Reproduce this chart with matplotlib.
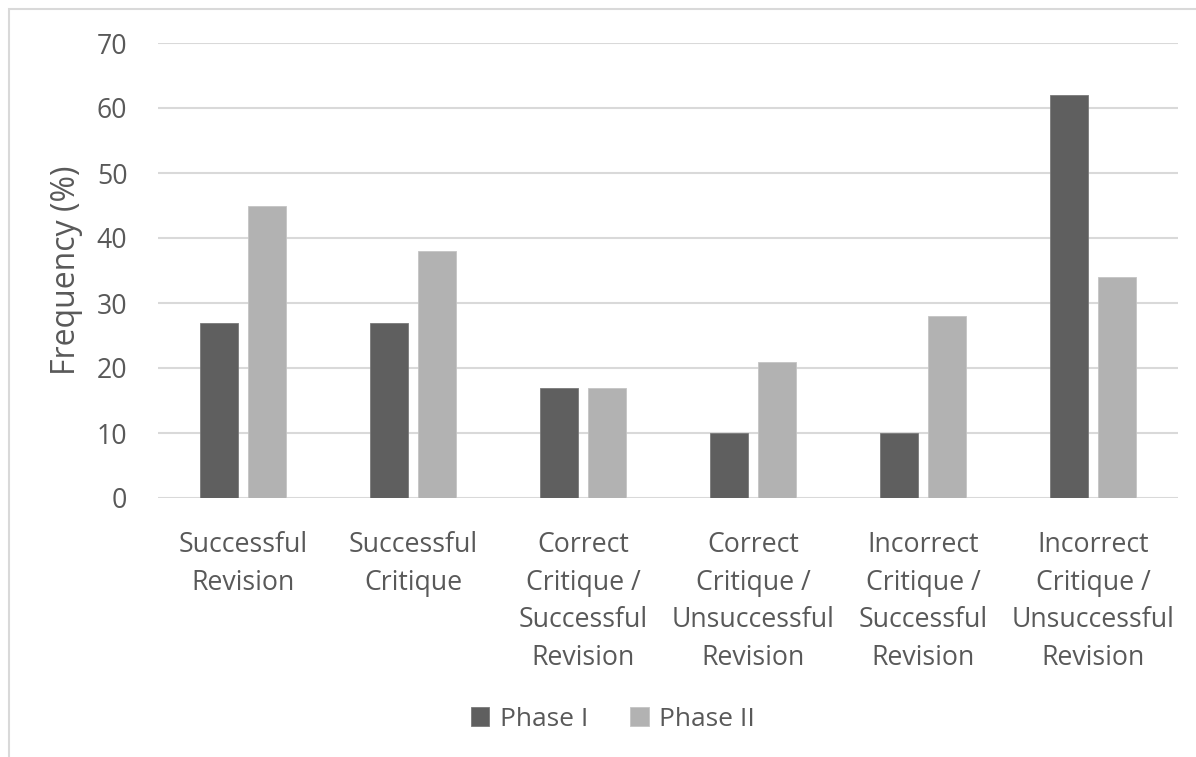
import matplotlib
matplotlib.use("Agg")
import matplotlib.pyplot as plt
import numpy as np
from matplotlib.patches import Rectangle

plt.rcParams['font.family'] = ['Open Sans', 'DejaVu Sans']

categories = ["Successful\nRevision", "Successful\nCritique",
              "Correct\nCritique /\nSuccessful\nRevision",
              "Correct\nCritique /\nUnsuccessful\nRevision",
              "Incorrect\nCritique /\nSuccessful\nRevision",
              "Incorrect\nCritique /\nUnsuccessful\nRevision"]
phase1 = [27, 27, 17, 10, 10, 62]
phase2 = [45, 38, 17, 21, 28, 34]
series_names = ["Phase I", "Phase II"]
yticks = [0, 10, 20, 30, 40, 50, 60, 70]

c1 = "#5f5f5f"
c2 = "#b2b2b2"
txt = "#595959"
grid = "#d9d9d9"

fig = plt.figure(figsize=(11.96, 7.57), dpi=100)
# outer chart border
fig.patches.append(Rectangle((9/1196, -0.1), 1.2, (757-9)/757 + 0.1,
                             transform=fig.transFigure, fill=False,
                             edgecolor=grid, lw=1.5, zorder=0))

ax = fig.add_axes([158/1196, (757-498)/757, (1178-158)/1196, (498-43)/757])
x = np.arange(len(categories))
w = 0.224
off = 0.141
ax.bar(x - off, phase1, w, color=c1, label=series_names[0], zorder=3,
       edgecolor="#7a7a7a", linewidth=0.6)
ax.bar(x + off, phase2, w, color=c2, label=series_names[1], zorder=3,
       edgecolor="#c4c4c4", linewidth=0.6)

ax.set_xlim(-0.5, len(categories) - 0.5)
ax.set_ylim(0, 70)
ax.set_yticks(yticks)
ax.yaxis.grid(True, color=grid, lw=1.5, zorder=0)
ax.set_axisbelow(True)
for s in ax.spines.values():
    s.set_visible(False)
ax.tick_params(axis='both', length=0, labelsize=19.2, colors=txt)
ax.tick_params(axis='y', pad=22)
ax.tick_params(axis='x', pad=24)
ax.set_xticks(x)
ax.set_xticklabels(categories, linespacing=1.45)
ax.set_ylabel("Frequency (%)", fontsize=23, color=txt, labelpad=10)

leg = fig.legend(loc='center', bbox_to_anchor=(613/1196, (757-719)/757),
                 ncol=2, frameon=False, fontsize=19, handlelength=0.7,
                 handleheight=0.7, handletextpad=0.4, columnspacing=1.6)
for t in leg.get_texts():
    t.set_color(txt)

fig.savefig("out.png", dpi=100)
